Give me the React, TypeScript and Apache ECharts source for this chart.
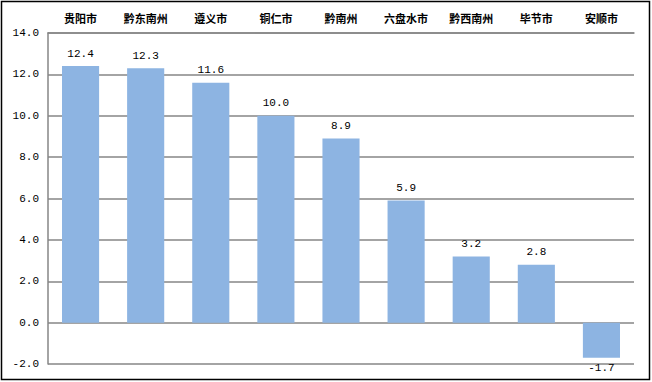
import React, { useEffect, useRef } from "react";
import * as echarts from "echarts";

const categories = ["贵阳市", "黔东南州", "遵义市", "铜仁市", "黔南州", "六盘水市", "黔西南州", "毕节市", "安顺市"];
const values = [12.4, 12.3, 11.6, 10.0, 8.9, 5.9, 3.2, 2.8, -1.7];
const yMin = -2;
const yMax = 14;
const yInterval = 2;

export default function App() {
  const ref = useRef<HTMLDivElement>(null);
  useEffect(() => {
    if (!ref.current) return;
    const chart = echarts.init(ref.current, null, { renderer: "svg" });
    const numFont = "'Liberation Mono', 'DejaVu Sans Mono', monospace";
    chart.setOption({
      animation: false,
      backgroundColor: "#ffffff",
      grid: { left: 48, right: 18, top: 33, bottom: 18, containLabel: false },
      xAxis: {
        type: "category",
        data: categories,
        position: "top",
        axisLine: { show: true, onZero: false, lineStyle: { color: "#868686", width: 1.5 } },
        axisTick: { show: false },
        axisLabel: {
          color: "#000",
          fontSize: 11,
          fontWeight: "bold",
          fontFamily: "'Noto Sans CJK SC', sans-serif",
          margin: 10,
          interval: 0,
        },
      },
      yAxis: {
        type: "value",
        min: yMin,
        max: yMax,
        interval: yInterval,
        axisLine: { show: true, lineStyle: { color: "#868686", width: 1.5 } },
        axisTick: { show: false },
        splitLine: { show: true, lineStyle: { color: "#868686", width: 1.5 } },
        axisLabel: {
          color: "#000",
          fontSize: 11,
          fontFamily: numFont,
          margin: 9,
          formatter: (v: number) => v.toFixed(1),
        },
      },
      series: [
        {
          type: "bar",
          barWidth: "57%",
          itemStyle: { color: "#8DB4E2" },
          data: values.map((v) => ({
            value: v,
            label: {
              show: true,
              position: v < 0 ? "bottom" : "top",
              distance: v < 0 ? 5 : 7,
              color: "#000",
              fontSize: 11,
              fontFamily: numFont,
              formatter: (p: any) => Number(p.value).toFixed(1),
            },
          })),
        },
      ],
      graphic: [
        {
          type: "rect",
          shape: { x: 1.5, y: 1.5, width: 648, height: 378 },
          style: { fill: "none", stroke: "#000", lineWidth: 1.5 },
          silent: true,
        },
      ],
    });
    return () => chart.dispose();
  }, []);
  return (
    <div
      ref={ref}
      style={{ position: "absolute", left: 0, top: 0, width: 652, height: 382 }}
    />
  );
}
